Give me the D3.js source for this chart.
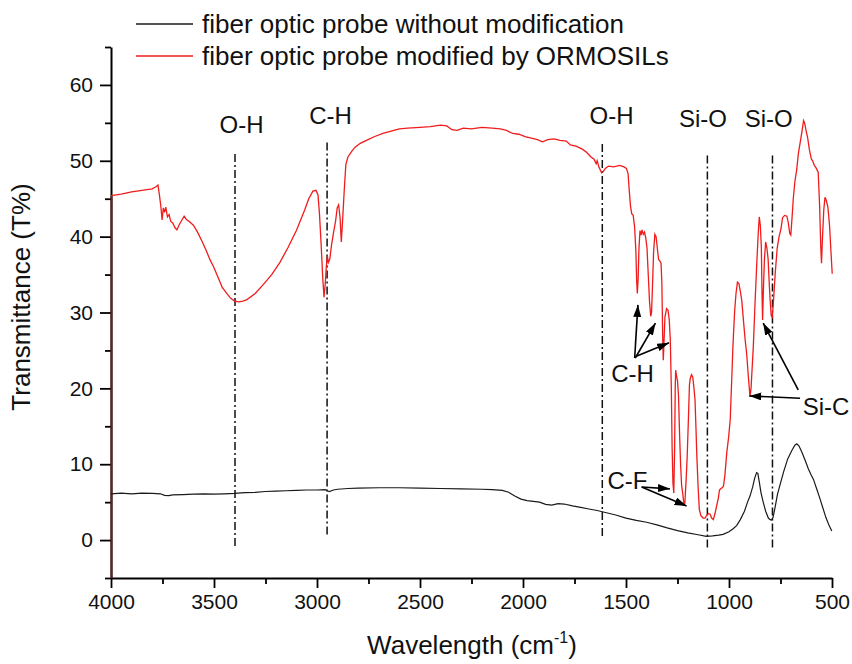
<!DOCTYPE html>
<html>
<head>
<meta charset="utf-8">
<script src="https://cdn.jsdelivr.net/npm/d3@7"></script>
<style>
body{margin:0;background:#fff;}
svg{font-family:"Liberation Sans", Arial, sans-serif;display:block;}
</style>
</head>
<body>
<script>
const W = 852, H = 664;
const LEFT = 111, RIGHT = 832, TOP = 47, BOTTOM = 578;

// series names (legend)
const seriesNames = ["fiber optic probe without modification", "fiber optic probe modified by ORMOSILs"];

// [wavenumber, T%]
const bareProbe = [
  [4000,6.1],[3950,6.2],[3900,6.1],[3850,6.2],[3800,6.15],[3760,6.1],[3740,5.9],[3720,5.85],[3700,5.95],
  [3650,6.0],[3600,6.05],[3550,6.1],[3500,6.05],[3450,6.1],[3400,6.15],[3350,6.25],[3300,6.3],[3250,6.4],
  [3200,6.45],[3150,6.5],[3100,6.55],[3050,6.6],[3000,6.6],[2960,6.65],[2950,6.5],[2940,6.4],[2920,6.6],
  [2900,6.7],[2850,6.8],[2800,6.85],[2700,6.9],[2600,6.9],[2500,6.85],[2400,6.8],[2300,6.75],[2200,6.7],
  [2150,6.65],[2100,6.55],[2070,6.3],[2040,5.8],[2010,5.4],[1980,5.2],[1950,5.1],[1920,5.0],[1890,4.7],
  [1860,4.6],[1830,4.8],[1800,4.75],[1760,4.5],[1720,4.3],[1680,4.1],[1640,3.9],[1610,3.7],[1550,3.3],
  [1500,2.9],[1450,2.6],[1400,2.35],[1350,2.0],[1300,1.6],[1250,1.25],[1200,0.95],[1150,0.7],[1110,0.5],
  [1080,0.55],[1050,0.65],[1029,0.75],[1000,1.1],[980,1.5],[963,1.9],[945,2.7],[925,3.8],[910,5.0],
  [898,5.8],[885,7.0],[875,8.2],[866,8.9],[860,8.8],[852,7.5],[845,6.3],[834,5.0],[822,3.8],[809,2.9],
  [800,2.7],[793,2.65],[786,3.0],[775,4.5],[765,6.0],[752,7.3],[735,9.0],[715,10.7],[695,11.8],[680,12.5],
  [671,12.7],[660,12.4],[645,11.5],[630,10.5],[615,9.4],[600,8.5],[590,8.0],[575,6.8],[560,5.6],[545,4.3],
  [530,3.0],[515,2.0],[501,1.2]
];

const ormosilProbe = [
  [4000,45.4],[3950,45.6],[3900,45.9],[3850,46.1],[3800,46.3],[3780,46.6],[3772,46.8],[3765,45.5],[3758,44.0],
  [3752,42.2],[3746,43.8],[3740,43.2],[3734,43.9],[3726,42.6],[3718,42.9],[3710,42.0],[3700,41.8],[3690,41.2],
  [3680,40.9],[3670,41.5],[3660,42.0],[3645,42.7],[3635,42.3],[3620,42.0],[3600,41.5],[3580,40.6],[3560,39.5],
  [3540,38.3],[3520,37.0],[3500,35.9],[3480,34.6],[3460,33.3],[3440,32.6],[3420,31.9],[3400,31.5],[3380,31.4],
  [3360,31.5],[3340,31.7],[3300,32.5],[3260,33.7],[3220,35.0],[3180,36.6],[3140,38.6],[3100,40.8],[3060,43.5],
  [3040,45.0],[3020,46.0],[3005,46.1],[2995,45.5],[2988,43.0],[2980,39.0],[2972,34.5],[2966,32.0],[2960,33.8],
  [2955,36.0],[2950,37.5],[2945,36.6],[2938,37.0],[2930,38.8],[2920,40.5],[2910,42.0],[2902,43.8],[2895,44.2],
  [2888,42.5],[2882,39.3],[2876,42.0],[2868,46.0],[2860,49.5],[2850,50.5],[2830,51.3],[2815,51.8],[2790,52.3],
  [2760,52.7],[2720,53.2],[2680,53.6],[2640,53.9],[2600,54.2],[2560,54.3],[2500,54.4],[2450,54.5],[2400,54.7],
  [2370,54.6],[2345,54.1],[2320,54.0],[2290,54.3],[2250,54.2],[2200,54.4],[2150,54.3],[2110,54.2],[2080,54.0],
  [2050,53.6],[2020,53.5],[1990,53.2],[1960,53.0],[1930,52.8],[1905,52.5],[1880,52.8],[1850,52.9],[1820,52.7],
  [1790,52.6],[1770,52.1],[1740,51.9],[1710,51.5],[1690,51.1],[1670,50.5],[1655,50.2],[1645,49.6],[1640,50.0],
  [1632,49.2],[1625,48.8],[1618,48.4],[1610,48.6],[1600,49.0],[1585,49.3],[1560,49.2],[1530,49.4],[1510,49.2],
  [1498,49.0],[1490,48.3],[1484,46.0],[1478,44.0],[1472,43.0],[1465,42.8],[1458,41.2],[1452,38.0],[1448,34.0],
  [1445,32.5],[1441,34.5],[1437,38.5],[1432,40.8],[1427,40.2],[1422,40.9],[1416,40.3],[1410,40.6],[1404,39.8],
  [1398,38.5],[1392,35.0],[1386,31.5],[1380,29.5],[1376,30.0],[1372,33.0],[1366,38.0],[1360,40.3],[1354,40.0],
  [1348,38.5],[1342,37.0],[1336,36.8],[1330,36.5],[1326,34.0],[1322,27.0],[1319,23.7],[1315,26.5],[1311,29.4],
  [1303,30.5],[1296,30.3],[1290,29.0],[1285,26.4],[1280,20.0],[1276,12.0],[1272,7.5],[1268,6.2],[1264,12.0],
  [1261,20.0],[1259,22.4],[1254,21.5],[1250,21.0],[1245,19.0],[1240,14.0],[1235,10.0],[1230,7.2],[1224,6.0],
  [1218,4.5],[1214,5.0],[1208,8.0],[1203,11.0],[1197,16.0],[1192,20.5],[1188,21.3],[1182,21.8],[1176,21.5],
  [1170,20.0],[1165,18.5],[1160,14.5],[1156,11.0],[1150,7.0],[1144,4.0],[1136,3.2],[1125,2.9],[1116,2.9],
  [1108,3.3],[1100,3.5],[1092,3.4],[1084,2.9],[1076,2.7],[1068,3.5],[1060,4.5],[1052,5.5],[1046,6.6],[1040,6.8],
  [1033,6.9],[1027,7.1],[1020,8.5],[1011,11.5],[1002,13.5],[994,15.9],[987,21.0],[981,25.5],[973,30.0],[966,32.5],
  [959,34.0],[952,33.8],[945,32.8],[938,31.6],[930,29.0],[922,26.5],[914,24.5],[906,21.5],[898,18.9],[893,20.0],
  [888,22.5],[882,25.5],[874,31.0],[866,36.0],[858,40.5],[853,42.6],[848,41.5],[843,38.6],[840,33.0],[837,29.0],
  [833,33.0],[828,37.0],[822,39.3],[816,38.5],[810,37.0],[805,34.0],[800,31.5],[795,29.6],[790,29.4],[784,31.5],
  [776,35.0],[766,38.5],[757,40.0],[748,41.0],[740,42.5],[730,42.8],[719,42.7],[712,41.8],[705,40.4],[700,40.2],
  [694,42.5],[688,45.0],[680,47.3],[672,48.7],[663,51.0],[654,52.5],[645,54.0],[638,55.3],[633,55.0],[626,54.0],
  [618,53.0],[610,51.5],[600,50.2],[594,50.0],[586,49.4],[578,49.1],[567,48.5],[560,44.0],[555,39.0],[551,36.5],
  [546,40.0],[540,43.5],[534,45.2],[528,44.8],[520,43.9],[512,41.5],[505,38.0],[499,35.1]
];

// band marker lines: wavenumber, top/bottom T, label and where the label sits
const bandWave  = [3398, 2951, 1615, 1105, 789];
const bandTop   = [50.9, 52.4, 52.2, 50.7, 50.7];
const bandBot   = [-0.8, 0.75, 0.5, -1.0, -1.0];
const bandLabel = ["O-H", "C-H", "O-H", "Si-O", "Si-O"];
const bandLabelWave = [3366, 2934, 1570, 1126, 807];
const bandLabelT    = [53.6, 54.9, 54.9, 54.5, 54.5];

// extra annotations: text + arrows (from -> to, in data units)
const noteText  = ["C-H", "C-F", "Si-C"];
const noteWave  = [1468, 1493, 529];
const noteT     = [20.9, 6.7, 16.5];
const arrows = [
  [1458, 24.0, 1442, 31.0],
  [1455, 24.0, 1357, 28.6],
  [1453, 24.2, 1291, 26.0],
  [1424, 7.0, 1287, 6.75],
  [1424, 7.0, 1206, 4.5],
  [664, 19.8, 834, 28.6],
  [655, 18.7, 901, 19.0]
];

const xMajor = d3.range(4000, 499, -500);
const xMinor = d3.range(3750, 500, -500);
const yMajor = d3.range(0, 61, 10);
const yMinor = d3.range(-5, 66, 10);

const svg = d3.select("body").append("svg").attr("width", W).attr("height", H);

const x = d3.scaleLinear().domain([4000, 500]).range([LEFT, RIGHT]);
const y = d3.scaleLinear().domain([-5, 65]).range([BOTTOM, TOP]);

svg.append("defs").append("marker")
  .attr("id", "head")
  .attr("viewBox", "0 0 12 8")
  .attr("refX", 12).attr("refY", 4)
  .attr("markerWidth", 12).attr("markerHeight", 8)
  .attr("markerUnits", "userSpaceOnUse")
  .attr("orient", "auto")
  .append("path").attr("d", "M0,0 L12,4 L0,8 Z").attr("fill", "#000");

// axes
svg.append("g").attr("transform", "translate(0," + BOTTOM + ")")
  .call(d3.axisBottom(x).tickValues(xMajor).tickSize(10).tickSizeOuter(0).tickPadding(6).tickFormat(d3.format("d")));
svg.append("g").attr("transform", "translate(0," + BOTTOM + ")")
  .call(d3.axisBottom(x).tickValues(xMinor).tickSize(6).tickFormat(""))
  .select(".domain").remove();

svg.append("g").attr("transform", "translate(" + LEFT + ",0)")
  .call(d3.axisLeft(y).tickValues(yMajor).tickSize(11).tickSizeOuter(0).tickPadding(7));
svg.append("g").attr("transform", "translate(" + LEFT + ",0)")
  .call(d3.axisLeft(y).tickValues(yMinor).tickSize(6).tickFormat(""))
  .select(".domain").remove();

svg.selectAll(".domain").attr("stroke", "#000").attr("stroke-width", 2);
svg.selectAll(".tick line").attr("stroke", "#000").attr("stroke-width", 1.8);
svg.selectAll(".tick text").attr("font-size", 21).attr("fill", "#111")
  .attr("font-family", "Liberation Sans, Arial, sans-serif");

// red drop on the y axis (as in the original figure)
svg.append("line")
  .attr("x1", LEFT + 0.5).attr("x2", LEFT + 0.5)
  .attr("y1", y(ormosilProbe[0][1])).attr("y2", BOTTOM)
  .attr("stroke", "#6e1c1c").attr("stroke-width", 2);

// axis titles
svg.append("text")
  .attr("transform", "translate(30,297) rotate(-90)")
  .attr("text-anchor", "middle").attr("font-size", 26).attr("fill", "#111")
  .text("Transmittance (T%)");

let xt = svg.append("text")
  .attr("x", 472).attr("y", 654)
  .attr("text-anchor", "middle").attr("font-size", 26).attr("fill", "#111");
xt.append("tspan").text("Wavelength (cm");
xt.append("tspan").attr("font-size", 16).attr("dy", -11).text("-1");
xt.append("tspan").attr("dy", 11).text(")");

// band lines
bandWave.forEach((w, i) => {
  svg.append("line")
    .attr("x1", x(w)).attr("x2", x(w))
    .attr("y1", y(bandTop[i])).attr("y2", y(bandBot[i]))
    .attr("stroke", "#111").attr("stroke-width", 1.5)
    .attr("stroke-dasharray", "8,3,2,3");
  svg.append("text")
    .attr("x", x(bandLabelWave[i])).attr("y", y(bandLabelT[i]))
    .attr("text-anchor", "middle").attr("font-size", 24).attr("fill", "#111")
    .text(bandLabel[i]);
});

// spectra
let line = d3.line().x(d => x(d[0])).y(d => y(d[1]));
svg.append("path").datum(bareProbe).attr("d", line)
  .attr("fill", "none").attr("stroke", "#1a1a1a").attr("stroke-width", 1.2);
svg.append("path").datum(ormosilProbe).attr("d", line)
  .attr("fill", "none").attr("stroke", "#f01c1c").attr("stroke-width", 1.3);

// notes + arrows
noteText.forEach((t, i) => {
  svg.append("text")
    .attr("x", x(noteWave[i])).attr("y", y(noteT[i]))
    .attr("text-anchor", "middle").attr("font-size", 24).attr("fill", "#111")
    .text(t);
});
svg.selectAll(".arrow").data(arrows).enter().append("line")
  .attr("class", "arrow")
  .attr("x1", d => x(d[0])).attr("y1", d => y(d[1]))
  .attr("x2", d => x(d[2])).attr("y2", d => y(d[3]))
  .attr("stroke", "#000").attr("stroke-width", 1.6)
  .attr("marker-end", "url(#head)");

// legend
let legend = svg.append("g");
let legendColors = ["#1a1a1a", "#f01c1c"];
seriesNames.forEach((name, i) => {
  let ly = 24 + i * 32;
  legend.append("line").attr("x1", 136).attr("x2", 193).attr("y1", ly).attr("y2", ly)
    .attr("stroke", legendColors[i]).attr("stroke-width", 1.3);
  legend.append("text").attr("x", 202).attr("y", ly + 9)
    .attr("font-size", 26).attr("fill", "#111").text(name);
});
</script>
</body>
</html>
